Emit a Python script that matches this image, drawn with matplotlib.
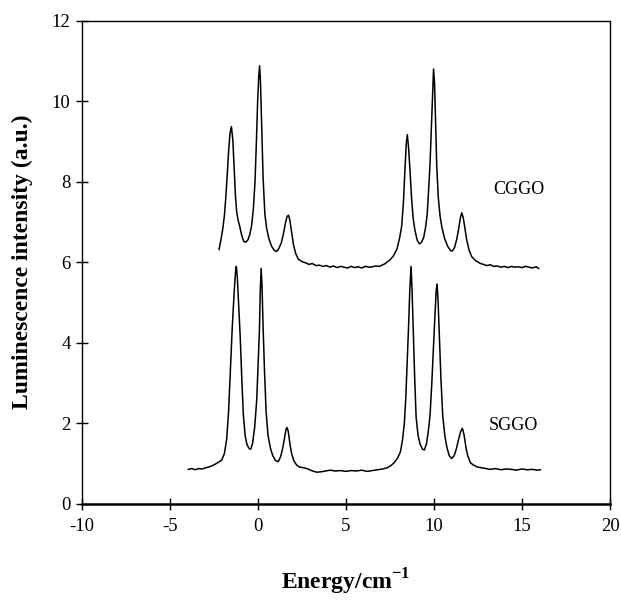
import matplotlib
matplotlib.use("Agg")
import matplotlib.pyplot as plt

plt.rcParams['font.family'] = ['Liberation Serif', 'DejaVu Serif']
plt.rcParams['axes.unicode_minus'] = False
plt.rcParams['mathtext.fontset'] = 'custom'
plt.rcParams['mathtext.rm'] = 'Liberation Serif'
plt.rcParams['mathtext.bf'] = 'Liberation Serif:bold'

# CGGO spectrum, (energy, intensity)
cggo = [(-2.2, 6.32), (-2.1, 6.55), (-2.0, 6.8), (-1.9, 7.15), (-1.82, 7.6), (-1.74, 8.15),
        (-1.66, 8.75), (-1.58, 9.2), (-1.5, 9.37), (-1.42, 9.05), (-1.34, 8.3), (-1.27, 7.65),
        (-1.2, 7.25), (-1.12, 7.05), (-1.03, 6.9), (-0.92, 6.68), (-0.8, 6.52), (-0.68, 6.5),
        (-0.56, 6.56), (-0.45, 6.7), (-0.35, 6.92), (-0.25, 7.35), (-0.16, 8.0), (-0.08, 9.0),
        (-0.01, 10.0), (0.05, 10.6), (0.1, 10.88), (0.15, 10.5), (0.22, 9.4), (0.3, 8.1),
        (0.4, 7.2), (0.5, 6.85), (0.62, 6.6), (0.78, 6.4), (0.93, 6.3), (1.07, 6.27),
        (1.2, 6.35), (1.33, 6.48), (1.45, 6.7), (1.57, 6.98), (1.66, 7.14), (1.74, 7.17),
        (1.82, 7.05), (1.92, 6.75), (2.02, 6.45), (2.15, 6.22), (2.3, 6.08), (2.5, 6.02),
        (2.7, 5.99), (2.9, 5.95), (3.1, 5.97), (3.3, 5.92), (3.5, 5.93), (3.7, 5.9),
        (3.9, 5.92), (4.1, 5.88), (4.3, 5.91), (4.5, 5.87), (4.7, 5.9), (4.9, 5.88),
        (5.1, 5.86), (5.3, 5.9), (5.5, 5.87), (5.7, 5.89), (5.9, 5.86), (6.1, 5.9),
        (6.3, 5.88), (6.5, 5.89), (6.7, 5.91), (6.9, 5.9), (7.05, 5.93), (7.2, 5.96),
        (7.5, 6.06), (7.7, 6.16), (7.9, 6.33), (8.05, 6.6), (8.17, 6.9), (8.27, 7.5),
        (8.36, 8.35), (8.43, 8.95), (8.49, 9.17), (8.56, 8.85), (8.64, 8.3), (8.73, 7.6),
        (8.82, 7.1), (8.92, 6.8), (9.05, 6.55), (9.17, 6.46), (9.3, 6.5), (9.42, 6.62),
        (9.52, 6.85), (9.62, 7.2), (9.7, 7.8), (9.78, 8.45), (9.86, 9.4), (9.93, 10.3),
        (9.98, 10.8), (10.04, 10.4), (10.1, 9.4), (10.16, 8.4), (10.25, 7.6), (10.35, 7.15),
        (10.45, 6.88), (10.6, 6.6), (10.78, 6.4), (10.95, 6.29), (11.05, 6.28), (11.18, 6.38),
        (11.3, 6.58), (11.4, 6.82), (11.5, 7.1), (11.58, 7.23), (11.66, 7.12), (11.76, 6.85),
        (11.86, 6.56), (12.0, 6.3), (12.15, 6.14), (12.35, 6.05), (12.6, 5.98), (12.8, 5.95),
        (13.0, 5.92), (13.2, 5.94), (13.4, 5.9), (13.6, 5.91), (13.8, 5.88), (14.0, 5.9),
        (14.2, 5.87), (14.4, 5.9), (14.6, 5.88), (14.8, 5.89), (15.0, 5.87), (15.2, 5.9),
        (15.4, 5.88), (15.6, 5.86), (15.8, 5.89), (15.95, 5.85)]

# SGGO spectrum, (energy, intensity)
sggo = [(-3.95, 0.86), (-3.75, 0.88), (-3.55, 0.85), (-3.35, 0.88), (-3.15, 0.87), (-2.95, 0.9),
        (-2.7, 0.93), (-2.5, 0.97), (-2.3, 1.02), (-2.05, 1.09), (-1.9, 1.25), (-1.77, 1.6),
        (-1.66, 2.3), (-1.56, 3.3), (-1.45, 4.4), (-1.35, 5.2), (-1.27, 5.75), (-1.22, 5.9),
        (-1.16, 5.6), (-1.08, 4.9), (-1.0, 4.15), (-0.9, 3.0), (-0.82, 2.2), (-0.72, 1.7),
        (-0.62, 1.48), (-0.5, 1.38), (-0.4, 1.36), (-0.3, 1.5), (-0.18, 1.9), (-0.06, 2.6),
        (0.02, 3.5), (0.09, 4.3), (0.14, 5.3), (0.19, 5.85), (0.24, 5.4), (0.3, 4.4),
        (0.38, 3.3), (0.47, 2.3), (0.58, 1.7), (0.72, 1.38), (0.85, 1.2), (1.0, 1.08),
        (1.16, 1.05), (1.3, 1.18), (1.42, 1.4), (1.52, 1.65), (1.6, 1.85), (1.66, 1.9),
        (1.73, 1.8), (1.82, 1.5), (1.92, 1.25), (2.05, 1.07), (2.2, 0.97), (2.35, 0.92),
        (2.6, 0.9), (2.85, 0.87), (3.1, 0.82), (3.35, 0.79), (3.6, 0.8), (3.85, 0.82),
        (4.1, 0.84), (4.4, 0.82), (4.7, 0.83), (5.0, 0.81), (5.3, 0.83), (5.6, 0.82),
        (5.9, 0.84), (6.2, 0.81), (6.5, 0.83), (6.8, 0.85), (7.1, 0.87), (7.35, 0.9),
        (7.55, 0.95), (7.75, 1.03), (7.95, 1.15), (8.1, 1.3), (8.22, 1.6), (8.32, 2.0),
        (8.4, 2.6), (8.48, 3.5), (8.56, 4.4), (8.63, 5.3), (8.7, 5.9), (8.76, 5.3),
        (8.83, 4.3), (8.91, 3.1), (8.99, 2.15), (9.1, 1.7), (9.22, 1.48), (9.35, 1.36),
        (9.46, 1.34), (9.58, 1.5), (9.68, 1.8), (9.78, 2.2), (9.88, 3.0), (9.97, 3.85),
        (10.06, 4.7), (10.13, 5.3), (10.18, 5.46), (10.24, 5.0), (10.31, 4.2), (10.4, 3.1),
        (10.5, 2.2), (10.62, 1.7), (10.73, 1.42), (10.87, 1.2), (11.01, 1.13), (11.15, 1.2),
        (11.28, 1.38), (11.4, 1.6), (11.52, 1.8), (11.62, 1.88), (11.72, 1.7), (11.82, 1.4),
        (11.92, 1.2), (12.08, 1.02), (12.24, 0.97), (12.45, 0.92), (12.7, 0.9), (12.95, 0.88),
        (13.2, 0.86), (13.5, 0.88), (13.8, 0.85), (14.1, 0.87), (14.4, 0.86), (14.7, 0.84),
        (15.0, 0.87), (15.3, 0.85), (15.6, 0.86), (15.85, 0.84), (16.05, 0.85)]

xticks = [-10, -5, 0, 5, 10, 15, 20]
yticks = [0, 2, 4, 6, 8, 10, 12]

fig = plt.figure(figsize=(6.21, 6.0), dpi=100)
ax = fig.add_axes([0.1316, 0.16, 0.8507, 0.8055])

for pts in (cggo, sggo):
    xs, ys = zip(*pts)
    ax.plot(xs, ys, color='black', lw=1.1)

ax.text(14.85, 7.8, 'CGGO', fontsize=13, ha='center', va='center')
ax.text(14.5, 1.95, 'SGGO', fontsize=13, ha='center', va='center')

ax.set_xlim(-10, 20)
ax.set_ylim(0, 12)
ax.set_xticks(xticks)
ax.set_yticks(yticks)
ax.tick_params(direction='inout', length=8, width=1, labelsize=13.5)
ax.tick_params(axis='x', pad=6)
ax.tick_params(axis='y', pad=4)
for s in ['top', 'right', 'left']:
    ax.spines[s].set_linewidth(1.0)
ax.spines['bottom'].set_linewidth(1.8)

fig.text(0.036, 0.563, 'Luminescence intensity (a.u.)', rotation=90,
         fontsize=17, fontweight='bold', ha='center', va='center')
fig.text(0.557, 0.03, r'Energy/cm$^{\mathbf{-1}}$', fontsize=17,
         fontweight='bold', ha='center', va='center')

fig.savefig('out.png', dpi=100)
